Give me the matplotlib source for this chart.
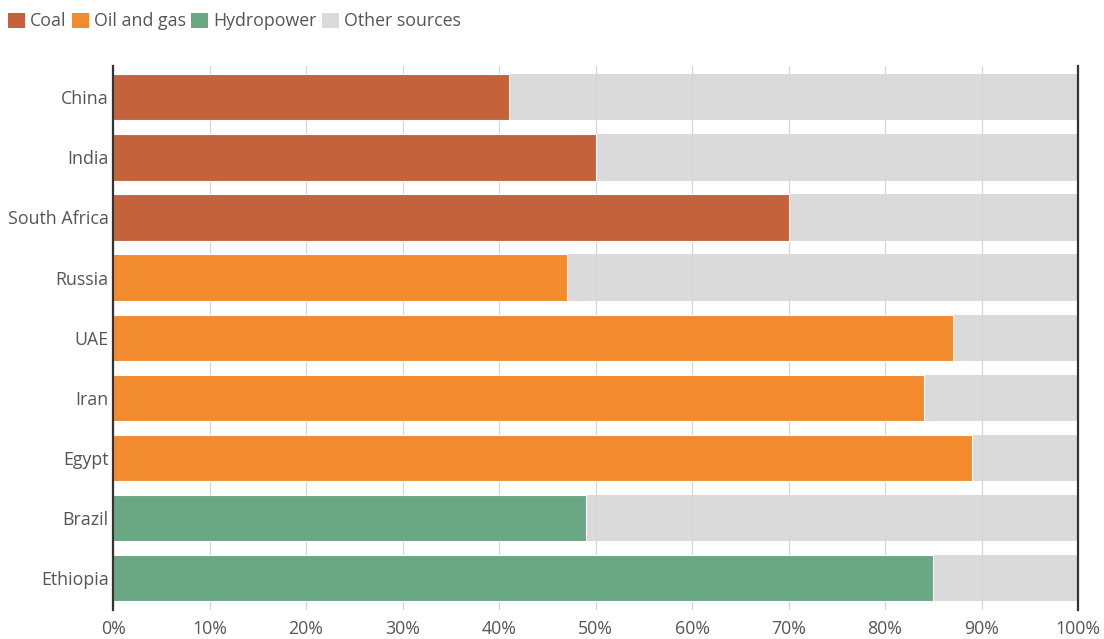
import matplotlib
matplotlib.use("Agg")
import matplotlib.pyplot as plt
from matplotlib.patches import Patch

countries = ["China", "India", "South Africa", "Russia", "UAE", "Iran", "Egypt", "Brazil", "Ethiopia"]
main_share = [41, 50, 70, 47, 87, 84, 89, 49, 85]
main_source = ["Coal", "Coal", "Coal", "Oil and gas", "Oil and gas", "Oil and gas", "Oil and gas",
               "Hydropower", "Hydropower"]
sources = ["Coal", "Oil and gas", "Hydropower", "Other sources"]
colors = {"Coal": "#C4623C", "Oil and gas": "#F28A2E", "Hydropower": "#6AA783", "Other sources": "#DADADA"}
xticks = [0, 10, 20, 30, 40, 50, 60, 70, 80, 90, 100]
xticklabels = [f"{t}%" for t in xticks]

plt.rcParams['font.family'] = ['Open Sans', 'DejaVu Sans']
text_color = "#555555"
fs = 12.8

fig = plt.figure(figsize=(11.04, 6.39), dpi=100)
ax = fig.add_axes([113/1104, 1 - 610/639, (1078 - 113)/1104, (610 - 66)/639])

ypos = list(range(len(countries)))
h = 0.77
ax.barh(ypos, [100]*len(countries), height=h, color=colors["Other sources"], zorder=1)
ax.barh(ypos, main_share, height=h, color=[colors[s] for s in main_source],
        edgecolor="white", linewidth=0.8, zorder=3)

ax.set_xlim(0, 100)
ax.set_ylim(8.53, -0.52)
ax.set_yticks(ypos)
ax.set_yticklabels(countries, fontsize=fs, color=text_color)
ax.set_xticks(xticks)
ax.set_xticklabels(xticklabels, fontsize=fs, color=text_color)
ax.tick_params(axis='y', length=0, pad=3)
ax.tick_params(axis='x', length=0, pad=7)
ax.grid(axis='x', color="#D6D6D6", linewidth=0.9, zorder=2)
ax.set_axisbelow(False)
for s in ["top", "bottom"]:
    ax.spines[s].set_visible(False)
for s in ["left", "right"]:
    ax.spines[s].set_color("#333333")
    ax.spines[s].set_linewidth(1.6)
    ax.spines[s].set_zorder(4)

handles = [Patch(facecolor=colors[s], edgecolor='none') for s in sources]
fig.legend(handles, sources, loc="upper left", bbox_to_anchor=(0.0, 0.993), ncol=4, frameon=False,
           fontsize=fs, handlelength=0.95, handleheight=0.95, handletextpad=0.27, columnspacing=0.32,
           labelcolor=text_color, borderaxespad=0.1, borderpad=0.35)

fig.savefig("out.png", dpi=100)
